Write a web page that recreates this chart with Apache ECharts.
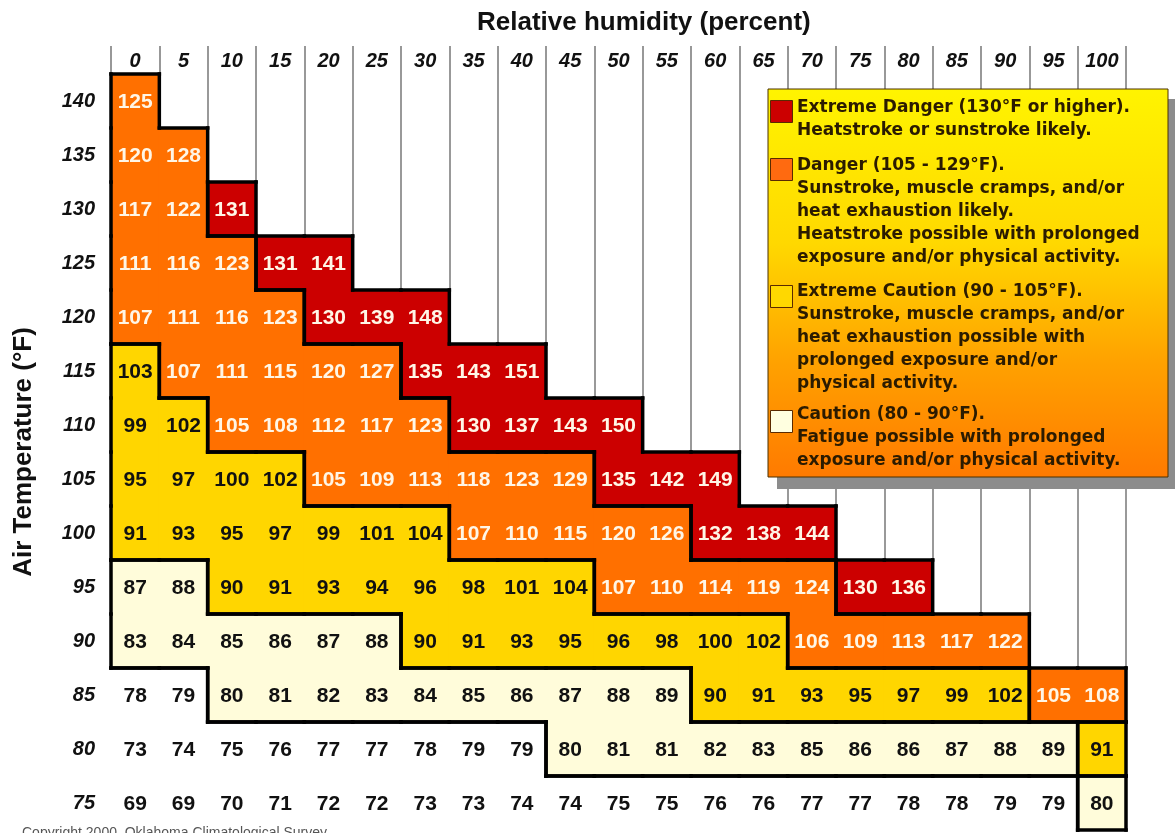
<!DOCTYPE html>
<html>
<head>
<meta charset="utf-8">
<title>Heat index</title>
<script src="https://cdn.jsdelivr.net/npm/echarts@6/dist/echarts.min.js"></script>
<style>
  html, body { margin: 0; padding: 0; background: #fff; }
  #chart { width: 1175px; height: 833px; }
</style>
</head>
<body>
<div id="chart"></div>
<script>
// relative humidity columns (percent)
const humidity = ['0', '5', '10', '15', '20', '25', '30', '35', '40', '45', '50',
  '55', '60', '65', '70', '75', '80', '85', '90', '95', '100'];
// air temperature rows (°F), top to bottom
const temps = ['140', '135', '130', '125', '120', '115', '110', '105', '100', '95', '90', '85', '80', '75'];

// apparent temperature, one array per air temperature, starting at 0% humidity
const t140 = [125];
const t135 = [120, 128];
const t130 = [117, 122, 131];
const t125 = [111, 116, 123, 131, 141];
const t120 = [107, 111, 116, 123, 130, 139, 148];
const t115 = [103, 107, 111, 115, 120, 127, 135, 143, 151];
const t110 = [99, 102, 105, 108, 112, 117, 123, 130, 137, 143, 150];
const t105 = [95, 97, 100, 102, 105, 109, 113, 118, 123, 129, 135, 142, 149];
const t100 = [91, 93, 95, 97, 99, 101, 104, 107, 110, 115, 120, 126, 132, 138, 144];
const t95 = [87, 88, 90, 91, 93, 94, 96, 98, 101, 104, 107, 110, 114, 119, 124, 130, 136];
const t90 = [83, 84, 85, 86, 87, 88, 90, 91, 93, 95, 96, 98, 100, 102, 106, 109, 113, 117, 122];
const t85 = [78, 79, 80, 81, 82, 83, 84, 85, 86, 87, 88, 89, 90, 91, 93, 95, 97, 99, 102, 105, 108];
const t80 = [73, 74, 75, 76, 77, 77, 78, 79, 79, 80, 81, 81, 82, 83, 85, 86, 86, 87, 88, 89, 91];
const t75 = [69, 69, 70, 71, 72, 72, 73, 73, 74, 74, 75, 75, 76, 76, 77, 77, 78, 78, 79, 79, 80];

// danger levels: below 80 none, caution, extreme caution, danger, extreme danger
const levelBreaks = [80, 90, 105, 130];
const levelFill = ['#ffffff', '#fffcda', '#ffd600', '#ff7000', '#cc0000'];
const levelText = ['#111111', '#111111', '#111111', '#fff6e6', '#fff6e6'];

const legendSwatch = ['#cc0000', '#ff6a10', '#ffd800', '#ffffe0'];
const legendLines = [
  ['Extreme Danger (130°F or higher).', 'Heatstroke or sunstroke likely.'],
  ['Danger (105 - 129°F).', 'Sunstroke, muscle cramps, and/or', 'heat exhaustion likely.',
    'Heatstroke possible with prolonged', 'exposure and/or physical activity.'],
  ['Extreme Caution (90 - 105°F).', 'Sunstroke, muscle cramps, and/or', 'heat exhaustion possible with',
    'prolonged exposure and/or', 'physical activity.'],
  ['Caution (80 - 90°F).', 'Fatigue possible with prolonged', 'exposure and/or physical activity.']
];

const rows = [t140, t135, t130, t125, t120, t115, t110, t105, t100, t95, t90, t85, t80, t75];

function level(v) {
  let l = 0;
  levelBreaks.forEach(b => { if (v >= b) l++; });
  return l;
}

const data = [];
rows.forEach((row, r) => {
  row.forEach((v, c) => data.push([c, r, v]));
});

function levelAt(c, r) {
  if (r < 0 || r >= rows.length) return 0;
  const v = rows[r][c];
  return v === undefined ? 0 : level(v);
}

function renderCell(params, api) {
  const v = api.value(2);
  const p = api.coord([api.value(0), api.value(1)]);
  const s = api.size([1, 1]);
  const l = level(v);
  return {
    type: 'group',
    children: [
      {
        type: 'rect',
        shape: { x: p[0] - s[0] / 2 - 1, y: p[1] - s[1] / 2 - 1, width: s[0] + 2, height: s[1] + 2 },
        style: { fill: levelFill[l] }
      },
      {
        type: 'text',
        x: p[0],
        y: p[1] + 1,
        style: {
          text: String(v),
          align: 'center',
          verticalAlign: 'middle',
          fill: levelText[l],
          font: 'bold 21px "Liberation Sans", Arial, sans-serif'
        }
      }
    ]
  };
}

function renderBorder(params, api) {
  const c = api.value(0), r = api.value(1);
  const p = api.coord([c, r]);
  const s = api.size([1, 1]);
  const x0 = p[0] - s[0] / 2, x1 = p[0] + s[0] / 2;
  const y0 = p[1] - s[1] / 2, y1 = p[1] + s[1] / 2;
  const l = level(api.value(2));
  const edges = [];
  if (levelAt(c, r - 1) !== l) edges.push([x0, y0, x1, y0]);
  if (levelAt(c, r + 1) !== l) edges.push([x0, y1, x1, y1]);
  if (levelAt(c - 1, r) !== l) edges.push([x0, y0, x0, y1]);
  if (levelAt(c + 1, r) !== l) edges.push([x1, y0, x1, y1]);
  return {
    type: 'group',
    children: edges.map(e => ({
      type: 'line',
      shape: { x1: e[0], y1: e[1], x2: e[2], y2: e[3] },
      style: { stroke: '#000', lineWidth: 3.5, lineCap: 'square' }
    }))
  };
}

const legendTops = [96.5, 154.5, 280.5, 403.5];
const swatchTops = [100, 158, 285, 410];
const graphic = [
  { type: 'rect', z: 100, shape: { x: 777, y: 99, width: 400, height: 390 }, style: { fill: '#8c8c8c' } },
  {
    type: 'rect', z: 101,
    shape: { x: 768, y: 89, width: 400, height: 388 },
    style: {
      fill: new echarts.graphic.LinearGradient(0, 0, 0, 1, [
        { offset: 0, color: '#fff400' },
        { offset: 0.4, color: '#ffd800' },
        { offset: 0.7, color: '#ffa200' },
        { offset: 1, color: '#ff7a00' }
      ]),
      stroke: '#4a3000',
      lineWidth: 1
    }
  },
  {
    type: 'text', z: 100, left: 22, top: 826,
    style: { text: 'Copyright 2000, Oklahoma Climatological Survey', font: '14px "Liberation Sans", Arial, sans-serif', fill: '#555' }
  }
];
legendLines.forEach((lines, i) => {
  graphic.push({
    type: 'rect', z: 102,
    shape: { x: 770.5, y: swatchTops[i] + 0.5, width: 22, height: 22 },
    style: { fill: legendSwatch[i], stroke: '#5a2a00', lineWidth: 1 }
  });
  graphic.push({
    type: 'text', z: 102, x: 797, y: legendTops[i],
    style: {
      text: lines.join('\n'),
      lineHeight: 23,
      verticalAlign: 'top',
      fill: '#2b1b00',
      font: 'bold 17px "DejaVu Sans", sans-serif'
    }
  });
});

const chart = echarts.init(document.getElementById('chart'));
chart.setOption({
  animation: false,
  backgroundColor: '#fff',
  title: {
    text: 'Relative humidity (percent)',
    left: 472,
    top: 5,
    textStyle: { fontFamily: 'Liberation Sans', fontWeight: 'bold', fontSize: 26, color: '#111' }
  },
  grid: { left: 111, right: 49, top: 74, bottom: 3 },
  xAxis: {
    type: 'category',
    position: 'top',
    data: humidity,
    boundaryGap: true,
    axisLine: { show: false },
    axisTick: { show: true, length: 28, interval: 0, lineStyle: { color: '#777', width: 1.5 } },
    axisLabel: {
      interval: 0, margin: 3,
      fontFamily: 'Liberation Sans', fontStyle: 'italic', fontWeight: 'bold', fontSize: 20, color: '#111'
    },
    splitLine: { show: true, interval: 0, lineStyle: { color: '#777', width: 1.5 } }
  },
  yAxis: {
    type: 'category',
    data: temps,
    inverse: true,
    name: 'Air Temperature (°F)',
    nameLocation: 'middle',
    nameRotate: 90,
    nameGap: 74,
    nameTextStyle: { fontFamily: 'Liberation Sans', fontWeight: 'bold', fontSize: 26, color: '#111' },
    axisLine: { show: false },
    axisTick: { show: false },
    splitLine: { show: false },
    axisLabel: {
      margin: 16,
      fontFamily: 'Liberation Sans', fontStyle: 'italic', fontWeight: 'bold', fontSize: 20, color: '#111'
    }
  },
  series: [
    { type: 'custom', name: 'cells', renderItem: renderCell, data: data, z: 2 },
    { type: 'custom', name: 'borders', renderItem: renderBorder, data: data, z: 3, silent: true }
  ],
  graphic: graphic
});
</script>
</body>
</html>
